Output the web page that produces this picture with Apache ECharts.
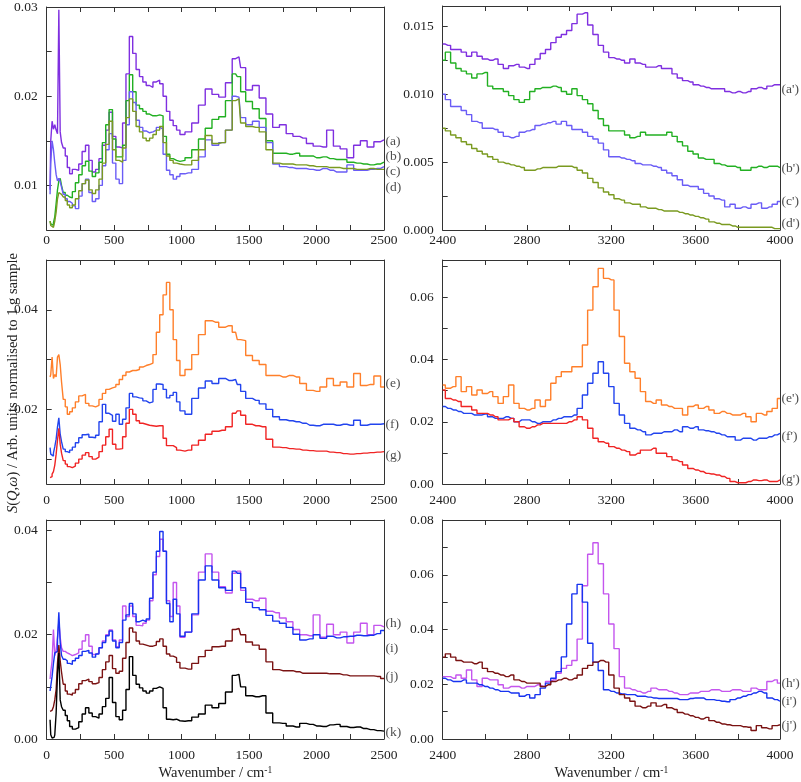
<!DOCTYPE html>
<html><head><meta charset="utf-8">
<script src="https://cdn.jsdelivr.net/npm/echarts@6/dist/echarts.min.js"></script>
<style>html,body{margin:0;padding:0;background:#fff}#c{width:801px;height:782px}</style>
</head><body><div id="c"></div>
<script>
// ---------- x values ----------
const lowX = [25,35,45,55,65,75,85,95,105,115,130,145,160,180,200,225,250,275,300,325,350,375,400,425,450,475,500,525,550,575,600,625,650,675,700,725,750,775,800,825,850,875,900,925,950,975,1000,1050,1100,1150,1200,1250,1300,1350,1400,1425,1450,1500,1550,1600,1650,1700,1750,1800,1850,1900,1950,2000,2050,2100,2150,2200,2250,2300,2350,2400,2450,2500];
const highX = [2400,2425,2450,2475,2500,2525,2550,2575,2600,2625,2650,2675,2700,2725,2750,2775,2800,2825,2850,2875,2900,2925,2950,2975,3000,3025,3050,3075,3100,3125,3150,3175,3200,3225,3250,3275,3300,3325,3350,3375,3400,3425,3450,3475,3500,3525,3550,3575,3600,3625,3650,3675,3700,3725,3750,3775,3800,3825,3850,3875,3900,3925,3950,3975,4000];

// ---------- low-frequency series ----------
const sA = [0.0095,0.0150,0.0172,0.0163,0.0168,0.0162,0.0158,0.0297,0.0160,0.0148,0.0142,0.0133,0.0120,0.0113,0.0118,0.0117,0.0124,0.0138,0.0145,0.0128,0.0115,0.0118,0.0130,0.0145,0.0162,0.0182,0.0155,0.0143,0.0142,0.0170,0.0225,0.0267,0.0248,0.0230,0.0222,0.0216,0.0212,0.0210,0.0216,0.0218,0.0214,0.0200,0.0183,0.0173,0.0167,0.0162,0.0157,0.0160,0.0170,0.0190,0.0208,0.0202,0.0199,0.0215,0.0242,0.0244,0.0232,0.0207,0.0212,0.0198,0.0180,0.0165,0.0168,0.0158,0.0155,0.0153,0.0147,0.0144,0.0143,0.0162,0.0144,0.0141,0.0131,0.0145,0.0150,0.0143,0.0149,0.0151];
const sB = [0.0060,0.0057,0.0055,0.0058,0.0065,0.0080,0.0095,0.0105,0.0108,0.0100,0.0092,0.0089,0.0087,0.0086,0.0093,0.0103,0.0112,0.0122,0.0127,0.0116,0.0110,0.0114,0.0126,0.0148,0.0168,0.0185,0.0152,0.0132,0.0132,0.0145,0.0195,0.0224,0.0205,0.0190,0.0186,0.0183,0.0180,0.0178,0.0178,0.0179,0.0178,0.0155,0.0135,0.0130,0.0128,0.0127,0.0128,0.0131,0.0140,0.0152,0.0164,0.0174,0.0177,0.0195,0.0225,0.0222,0.0205,0.0194,0.0186,0.0175,0.0150,0.0136,0.0136,0.0135,0.0136,0.0133,0.0133,0.0131,0.0132,0.0130,0.0129,0.0129,0.0126,0.0125,0.0124,0.0123,0.0124,0.0126];
const sC = [0.0090,0.0125,0.0150,0.0140,0.0125,0.0112,0.0105,0.0108,0.0104,0.0098,0.0090,0.0085,0.0082,0.0080,0.0077,0.0074,0.0088,0.0102,0.0107,0.0092,0.0082,0.0085,0.0100,0.0122,0.0140,0.0158,0.0125,0.0107,0.0102,0.0128,0.0168,0.0205,0.0193,0.0173,0.0165,0.0161,0.0159,0.0160,0.0162,0.0165,0.0163,0.0135,0.0117,0.0112,0.0107,0.0110,0.0113,0.0114,0.0118,0.0132,0.0151,0.0145,0.0148,0.0162,0.0200,0.0199,0.0176,0.0168,0.0172,0.0165,0.0148,0.0124,0.0121,0.0120,0.0119,0.0119,0.0118,0.0117,0.0119,0.0117,0.0115,0.0115,0.0123,0.0117,0.0117,0.0118,0.0119,0.0121];
const sD = [0.0060,0.0055,0.0053,0.0055,0.0060,0.0070,0.0085,0.0092,0.0090,0.0088,0.0087,0.0083,0.0078,0.0075,0.0078,0.0085,0.0094,0.0102,0.0106,0.0095,0.0091,0.0095,0.0107,0.0125,0.0146,0.0172,0.0140,0.0128,0.0126,0.0142,0.0176,0.0197,0.0183,0.0166,0.0160,0.0153,0.0150,0.0153,0.0157,0.0162,0.0166,0.0148,0.0133,0.0128,0.0125,0.0124,0.0123,0.0123,0.0128,0.0140,0.0156,0.0147,0.0148,0.0162,0.0195,0.0197,0.0170,0.0166,0.0165,0.0160,0.0140,0.0125,0.0124,0.0124,0.0123,0.0123,0.0122,0.0121,0.0121,0.0120,0.0120,0.0119,0.0119,0.0118,0.0118,0.0119,0.0118,0.0118];
const sE = [0.0265,0.0270,0.0305,0.0262,0.0270,0.0265,0.0305,0.0310,0.0290,0.0255,0.0220,0.0205,0.0190,0.0195,0.0203,0.0215,0.0227,0.0230,0.0212,0.0207,0.0205,0.0208,0.0220,0.0232,0.0240,0.0243,0.0245,0.0250,0.0260,0.0268,0.0275,0.0278,0.0278,0.0280,0.0285,0.0288,0.0290,0.0293,0.0310,0.0355,0.0390,0.0430,0.0455,0.0400,0.0340,0.0298,0.0268,0.0280,0.0310,0.0350,0.0378,0.0375,0.0365,0.0368,0.0355,0.0340,0.0338,0.0308,0.0298,0.0290,0.0268,0.0268,0.0265,0.0268,0.0265,0.0252,0.0238,0.0236,0.0245,0.0262,0.0248,0.0255,0.0245,0.0272,0.0248,0.0250,0.0267,0.0245];
const sF = [0.0123,0.0110,0.0106,0.0112,0.0125,0.0140,0.0165,0.0183,0.0150,0.0135,0.0120,0.0115,0.0113,0.0118,0.0124,0.0133,0.0143,0.0149,0.0150,0.0144,0.0143,0.0148,0.0175,0.0210,0.0192,0.0188,0.0176,0.0190,0.0170,0.0180,0.0203,0.0232,0.0225,0.0223,0.0222,0.0217,0.0213,0.0215,0.0240,0.0251,0.0250,0.0240,0.0223,0.0228,0.0234,0.0215,0.0197,0.0190,0.0222,0.0243,0.0257,0.0252,0.0262,0.0258,0.0260,0.0250,0.0236,0.0222,0.0218,0.0211,0.0200,0.0185,0.0179,0.0177,0.0175,0.0172,0.0168,0.0167,0.0170,0.0170,0.0168,0.0170,0.0168,0.0178,0.0168,0.0170,0.0170,0.0171];
const sG = [0.0063,0.0065,0.0070,0.0075,0.0088,0.0110,0.0138,0.0162,0.0130,0.0112,0.0097,0.0090,0.0085,0.0083,0.0086,0.0092,0.0100,0.0108,0.0113,0.0105,0.0100,0.0104,0.0115,0.0128,0.0145,0.0160,0.0130,0.0120,0.0121,0.0145,0.0172,0.0200,0.0190,0.0177,0.0172,0.0170,0.0168,0.0167,0.0166,0.0167,0.0167,0.0142,0.0127,0.0127,0.0123,0.0118,0.0116,0.0118,0.0128,0.0138,0.0150,0.0156,0.0158,0.0165,0.0192,0.0197,0.0188,0.0170,0.0167,0.0165,0.0140,0.0124,0.0123,0.0121,0.0120,0.0118,0.0117,0.0116,0.0116,0.0114,0.0113,0.0111,0.0110,0.0111,0.0112,0.0113,0.0114,0.0115];
const sH = [0.0115,0.0128,0.0150,0.0210,0.0160,0.0170,0.0195,0.0225,0.0195,0.0175,0.0168,0.0165,0.0163,0.0160,0.0162,0.0165,0.0172,0.0188,0.0200,0.0178,0.0162,0.0165,0.0175,0.0188,0.0200,0.0209,0.0190,0.0177,0.0190,0.0255,0.0235,0.0255,0.0235,0.0218,0.0217,0.0222,0.0228,0.0265,0.0315,0.0350,0.0383,0.0360,0.0265,0.0235,0.0300,0.0255,0.0195,0.0205,0.0238,0.0320,0.0355,0.0320,0.0292,0.0280,0.0318,0.0322,0.0285,0.0268,0.0265,0.0270,0.0245,0.0242,0.0232,0.0225,0.0210,0.0200,0.0198,0.0238,0.0195,0.0220,0.0200,0.0205,0.0184,0.0205,0.0222,0.0200,0.0218,0.0215];
const sI = [0.0092,0.0092,0.0120,0.0145,0.0165,0.0168,0.0190,0.0243,0.0185,0.0160,0.0153,0.0150,0.0145,0.0143,0.0150,0.0155,0.0160,0.0168,0.0170,0.0165,0.0157,0.0163,0.0175,0.0185,0.0198,0.0207,0.0188,0.0175,0.0185,0.0228,0.0238,0.0260,0.0240,0.0225,0.0228,0.0225,0.0230,0.0270,0.0320,0.0360,0.0398,0.0360,0.0260,0.0225,0.0268,0.0240,0.0197,0.0205,0.0240,0.0305,0.0332,0.0305,0.0290,0.0285,0.0322,0.0318,0.0290,0.0262,0.0252,0.0248,0.0237,0.0226,0.0222,0.0214,0.0201,0.0190,0.0192,0.0200,0.0193,0.0197,0.0194,0.0196,0.0197,0.0199,0.0198,0.0199,0.0202,0.0208];
const sJ = [0.0053,0.0055,0.0058,0.0062,0.0075,0.0095,0.0145,0.0180,0.0150,0.0128,0.0105,0.0092,0.0086,0.0084,0.0088,0.0095,0.0106,0.0112,0.0115,0.0110,0.0106,0.0108,0.0118,0.0133,0.0148,0.0160,0.0135,0.0126,0.0130,0.0155,0.0185,0.0213,0.0205,0.0188,0.0182,0.0180,0.0178,0.0178,0.0180,0.0187,0.0192,0.0178,0.0163,0.0159,0.0156,0.0147,0.0136,0.0134,0.0145,0.0158,0.0170,0.0177,0.0178,0.0188,0.0210,0.0212,0.0200,0.0186,0.0180,0.0172,0.0148,0.0133,0.0131,0.0131,0.0129,0.0126,0.0126,0.0126,0.0126,0.0125,0.0125,0.0123,0.0121,0.0121,0.0121,0.0121,0.0120,0.0116];
const sK = [0.0037,0.0008,0.0002,0.0003,0.0008,0.0050,0.0125,0.0165,0.0075,0.0062,0.0055,0.0045,0.0035,0.0024,0.0019,0.0022,0.0033,0.0048,0.0060,0.0050,0.0043,0.0040,0.0048,0.0062,0.0078,0.0118,0.0070,0.0043,0.0037,0.0055,0.0095,0.0158,0.0122,0.0105,0.0098,0.0092,0.0088,0.0092,0.0097,0.0100,0.0097,0.0060,0.0038,0.0037,0.0038,0.0035,0.0034,0.0035,0.0042,0.0048,0.0065,0.0060,0.0068,0.0090,0.0122,0.0124,0.0100,0.0083,0.0081,0.0083,0.0050,0.0031,0.0030,0.0025,0.0023,0.0030,0.0028,0.0025,0.0024,0.0027,0.0028,0.0024,0.0022,0.0023,0.0020,0.0018,0.0016,0.0015];

// ---------- high-frequency series ----------
const pA = [0.0137,0.0136,0.0133,0.0133,0.0131,0.0128,0.0131,0.0128,0.0126,0.0125,0.0126,0.0122,0.0119,0.0121,0.0122,0.0120,0.0119,0.0122,0.0126,0.0130,0.0133,0.0138,0.0142,0.0144,0.0147,0.0152,0.0159,0.0160,0.0151,0.0144,0.0136,0.0131,0.0127,0.0126,0.0125,0.0123,0.0126,0.0123,0.0122,0.0120,0.0120,0.0121,0.0119,0.0119,0.0115,0.0112,0.0110,0.0109,0.0107,0.0106,0.0105,0.0104,0.0104,0.0104,0.0102,0.0101,0.0102,0.0101,0.0102,0.0104,0.0105,0.0104,0.0106,0.0107,0.0107];
const pB = [0.0125,0.0131,0.0123,0.0119,0.0117,0.0115,0.0112,0.0115,0.0116,0.0106,0.0104,0.0104,0.0102,0.0099,0.0096,0.0094,0.0096,0.0102,0.0104,0.0105,0.0105,0.0106,0.0105,0.0102,0.0100,0.0104,0.0099,0.0096,0.0093,0.0088,0.0082,0.0077,0.0073,0.0073,0.0073,0.0070,0.0068,0.0069,0.0072,0.0070,0.0070,0.0070,0.0070,0.0072,0.0069,0.0065,0.0062,0.0058,0.0056,0.0053,0.0052,0.0052,0.0049,0.0048,0.0047,0.0047,0.0046,0.0044,0.0044,0.0046,0.0047,0.0046,0.0047,0.0047,0.0046];
const pC = [0.0100,0.0096,0.0091,0.0091,0.0088,0.0085,0.0080,0.0079,0.0075,0.0075,0.0074,0.0072,0.0069,0.0068,0.0069,0.0072,0.0073,0.0074,0.0077,0.0078,0.0079,0.0080,0.0078,0.0080,0.0077,0.0074,0.0074,0.0072,0.0069,0.0067,0.0064,0.0059,0.0054,0.0054,0.0053,0.0052,0.0051,0.0049,0.0048,0.0048,0.0047,0.0046,0.0044,0.0042,0.0040,0.0037,0.0033,0.0032,0.0032,0.0030,0.0027,0.0025,0.0023,0.0022,0.0017,0.0019,0.0016,0.0017,0.0016,0.0019,0.0020,0.0016,0.0017,0.0019,0.0021];
const pD = [0.0075,0.0073,0.0070,0.0068,0.0065,0.0063,0.0060,0.0058,0.0056,0.0054,0.0052,0.0050,0.0049,0.0048,0.0047,0.0046,0.0044,0.0044,0.0045,0.0046,0.0046,0.0046,0.0047,0.0047,0.0047,0.0046,0.0044,0.0042,0.0038,0.0035,0.0031,0.0028,0.0026,0.0023,0.0022,0.0020,0.0019,0.0019,0.0017,0.0016,0.0016,0.0015,0.0014,0.0014,0.0014,0.0013,0.0012,0.0011,0.0010,0.0009,0.0008,0.0006,0.0005,0.0004,0.0004,0.0003,0.0002,0.0002,0.0002,0.0002,0.0002,0.0002,0.0002,0.0001,0.0001];
const pE = [0.0318,0.0308,0.0313,0.0345,0.0297,0.0313,0.0286,0.0302,0.0291,0.0297,0.0281,0.0259,0.0281,0.0318,0.0259,0.0243,0.0238,0.0243,0.0270,0.0249,0.0270,0.0324,0.0345,0.0361,0.0361,0.0377,0.0377,0.0447,0.0559,0.0634,0.0693,0.0661,0.0656,0.0559,0.0474,0.0388,0.0361,0.0340,0.0297,0.0265,0.0259,0.0270,0.0254,0.0249,0.0243,0.0243,0.0222,0.0249,0.0254,0.0243,0.0249,0.0238,0.0227,0.0233,0.0227,0.0222,0.0222,0.0227,0.0216,0.0200,0.0227,0.0222,0.0233,0.0243,0.0275];
const pF = [0.0249,0.0243,0.0238,0.0233,0.0227,0.0227,0.0222,0.0222,0.0225,0.0216,0.0211,0.0211,0.0216,0.0211,0.0200,0.0206,0.0206,0.0200,0.0195,0.0200,0.0200,0.0206,0.0211,0.0216,0.0216,0.0222,0.0243,0.0286,0.0324,0.0356,0.0393,0.0356,0.0313,0.0259,0.0222,0.0195,0.0179,0.0174,0.0168,0.0158,0.0163,0.0163,0.0168,0.0168,0.0174,0.0168,0.0184,0.0179,0.0184,0.0174,0.0171,0.0168,0.0163,0.0158,0.0152,0.0152,0.0141,0.0147,0.0147,0.0141,0.0147,0.0147,0.0152,0.0158,0.0163];
const pG = [0.0302,0.0275,0.0270,0.0265,0.0249,0.0249,0.0238,0.0227,0.0227,0.0222,0.0216,0.0206,0.0206,0.0211,0.0200,0.0184,0.0179,0.0184,0.0190,0.0195,0.0195,0.0195,0.0195,0.0195,0.0200,0.0206,0.0216,0.0206,0.0179,0.0147,0.0136,0.0131,0.0120,0.0115,0.0109,0.0104,0.0093,0.0099,0.0109,0.0109,0.0115,0.0099,0.0099,0.0088,0.0077,0.0072,0.0061,0.0050,0.0045,0.0040,0.0034,0.0032,0.0029,0.0024,0.0018,0.0008,0.0004,0.0004,0.0008,0.0013,0.0011,0.0013,0.0008,0.0008,0.0013];
const pH = [0.0228,0.0228,0.0222,0.0234,0.0222,0.0252,0.0216,0.0192,0.0222,0.0216,0.0216,0.0198,0.0186,0.0192,0.0192,0.0186,0.0192,0.0192,0.0198,0.0192,0.0210,0.0216,0.0240,0.0258,0.0269,0.0287,0.0365,0.0560,0.0675,0.0717,0.0640,0.0530,0.0420,0.0330,0.0228,0.0186,0.0180,0.0174,0.0168,0.0174,0.0186,0.0180,0.0180,0.0174,0.0168,0.0162,0.0162,0.0168,0.0168,0.0174,0.0174,0.0180,0.0180,0.0174,0.0174,0.0180,0.0180,0.0174,0.0174,0.0186,0.0180,0.0180,0.0210,0.0216,0.0204];
const pI = [0.0222,0.0216,0.0210,0.0210,0.0216,0.0204,0.0204,0.0198,0.0192,0.0186,0.0180,0.0174,0.0174,0.0168,0.0168,0.0156,0.0162,0.0150,0.0162,0.0186,0.0204,0.0222,0.0246,0.0300,0.0420,0.0530,0.0565,0.0500,0.0350,0.0281,0.0250,0.0180,0.0174,0.0168,0.0165,0.0162,0.0162,0.0156,0.0156,0.0153,0.0150,0.0148,0.0148,0.0148,0.0148,0.0144,0.0144,0.0148,0.0150,0.0150,0.0144,0.0144,0.0141,0.0138,0.0136,0.0144,0.0150,0.0156,0.0162,0.0168,0.0174,0.0168,0.0150,0.0144,0.0138];
const pJ = [0.0299,0.0311,0.0299,0.0287,0.0281,0.0281,0.0275,0.0281,0.0258,0.0246,0.0240,0.0234,0.0228,0.0234,0.0216,0.0210,0.0204,0.0204,0.0204,0.0192,0.0198,0.0210,0.0216,0.0222,0.0216,0.0222,0.0234,0.0258,0.0269,0.0281,0.0287,0.0281,0.0234,0.0186,0.0162,0.0150,0.0138,0.0120,0.0114,0.0120,0.0132,0.0120,0.0126,0.0114,0.0108,0.0097,0.0091,0.0085,0.0079,0.0073,0.0079,0.0067,0.0061,0.0055,0.0052,0.0049,0.0049,0.0045,0.0043,0.0031,0.0049,0.0041,0.0037,0.0049,0.0052];

// ---------- ticks & labels ----------
const xTicksLow = [0,250,500,750,1000,1250,1500,1750,2000,2250,2500];
const xLabelsLow = [0,500,1000,1500,2000,2500];
const xTicksHigh = [2400,2600,2800,3000,3200,3400,3600,3800,4000];
const xLabelsHigh = [2400,2800,3200,3600,4000];
const yTicks1L = [0.005,0.01,0.015,0.02,0.025,0.03];  const yLabels1L = [0.01,0.02,0.03];
const yTicks1R = [0,0.0025,0.005,0.0075,0.01,0.0125,0.015]; const yLabels1R = [0,0.005,0.01,0.015];
const yTicks2L = [0.01,0.02,0.03,0.04]; const yLabels2L = [0.02,0.04];
const yTicks2R = [0,0.01,0.02,0.03,0.04,0.05,0.06,0.07]; const yLabels2R = [0,0.02,0.04,0.06];
const yTicks3L = [0,0.01,0.02,0.03,0.04]; const yLabels3L = [0,0.02,0.04];
const yTicks3R = [0,0.01,0.02,0.03,0.04,0.05,0.06,0.07,0.08]; const yLabels3R = [0,0.02,0.04,0.06,0.08];

// curve tags: [text, y-value at which the tag sits]
const tags1L = [['(a)',0.01492],['(b)',0.01326],['(c)',0.01152],['(d)',0.00981]];
const tags1R = [["(a')",0.01037],["(b')",0.00457],["(c')",0.0021],["(d')",0.0005]];
const tags2L = [['(e)',0.0252],['(f)',0.0170],['(g)',0.0108]];
const tags2R = [["(e')",0.0274],["(f')",0.0154],["(g')",0.0016]];
const tags3L = [['(h)',0.0222],['(i)',0.0174],['(j)',0.0119],['(k)',0.00125]];
const tags3R = [["(h')",0.0203],["(i')",0.0137],["(j')",0.0048]];

const col = {a:'#7f2fe0', b:'#22b022', c:'#6a5cf6', d:'#7a9a20', e:'#ff7f2a', f:'#2244ee', g:'#f02424', h:'#c455ee', i:'#1733f0', j:'#7a1212', k:'#000000'};

const FONT = '"Liberation Serif","DejaVu Serif",serif';
const AX = '#333';
const L = 46.7, R = 442.7, W = 337.3;

const panels = [
  {grid:{left:L, top:6, width:W, height:224}, xs:lowX, xr:[0,2500], xt:xTicksLow, xl:xLabelsLow, yr:[0.005,0.03], yt:yTicks1L, yl:yLabels1L, dec:2, xm:3.5,
   ser:[[sA,col.a],[sB,col.b],[sC,col.c],[sD,col.d]], tags:tags1L},
  {grid:{left:R, top:6, width:W, height:224}, xs:highX, xr:[2400,4000], xt:xTicksHigh, xl:xLabelsHigh, yr:[0,0.0165], yt:yTicks1R, yl:yLabels1R, dec:3, xm:3.5,
   ser:[[pA,col.a],[pB,col.b],[pC,col.c],[pD,col.d]], tags:tags1R},
  {grid:{left:L, top:260, width:W, height:224}, xs:lowX, xr:[0,2500], xt:xTicksLow, xl:xLabelsLow, yr:[0.005,0.05], yt:yTicks2L, yl:yLabels2L, dec:2, xm:9,
   ser:[[sE,col.e],[sF,col.f],[sG,col.g]], tags:tags2L},
  {grid:{left:R, top:260, width:W, height:224}, xs:highX, xr:[2400,4000], xt:xTicksHigh, xl:xLabelsHigh, yr:[0,0.072], yt:yTicks2R, yl:yLabels2R, dec:2, xm:9,
   ser:[[pE,col.e],[pF,col.f],[pG,col.g]], tags:tags2R},
  {grid:{left:L, top:520, width:W, height:225}, xs:lowX, xr:[0,2500], xt:xTicksLow, xl:xLabelsLow, yr:[0,0.042], yt:yTicks3L, yl:yLabels3L, dec:2, xm:9, name:true,
   ser:[[sH,col.h],[sI,col.i],[sJ,col.j],[sK,col.k]], tags:tags3L},
  {grid:{left:R, top:520, width:W, height:225}, xs:highX, xr:[2400,4000], xt:xTicksHigh, xl:xLabelsHigh, yr:[0,0.08], yt:yTicks3R, yl:yLabels3R, dec:2, xm:9, name:true,
   ser:[[pH,col.h],[pI,col.i],[pJ,col.j]], tags:tags3R}
];

const grid=[], xAxis=[], yAxis=[], series=[];
const lab = {fontFamily:FONT, fontSize:13.5, color:'#222'};
panels.forEach((p, gi) => {
  grid.push(p.grid);
  const base = {type:'value', gridIndex:gi, splitLine:{show:false}, axisLine:{show:true, onZero:false, lineStyle:{color:AX, width:1}}};
  xAxis.push(Object.assign({}, base, {min:p.xr[0], max:p.xr[1], position:'bottom',
    axisTick:{show:true, inside:true, length:5, customValues:p.xt, lineStyle:{color:AX}},
    axisLabel:Object.assign({show:true, customValues:p.xl, margin:p.xm, formatter:v=>String(v)}, lab),
    name: p.name ? '{t|Wavenumber / cm}{s|-1}' : '', nameLocation:'middle', nameGap:26,
    nameTextStyle:{rich:{t:{fontFamily:FONT, fontSize:14.5, color:'#222', lineHeight:16}, s:{fontFamily:FONT, fontSize:9.5, color:'#222', verticalAlign:'top', lineHeight:16, padding:[0,0,6,0]}}}
  }));
  xAxis.push(Object.assign({}, base, {min:p.xr[0], max:p.xr[1], position:'top',
    axisTick:{show:true, inside:true, length:5, customValues:p.xt, lineStyle:{color:AX}}, axisLabel:{show:false}}));
  yAxis.push(Object.assign({}, base, {min:p.yr[0], max:p.yr[1], position:'left',
    axisTick:{show:true, inside:true, length:5, customValues:p.yt, lineStyle:{color:AX}},
    axisLabel:Object.assign({show:true, customValues:p.yl, margin:9, formatter:v=>v.toFixed(p.dec)}, lab)}));
  yAxis.push(Object.assign({}, base, {min:p.yr[0], max:p.yr[1], position:'right', axisTick:{show:false}, axisLabel:{show:false}}));
  p.ser.forEach(([ys, c]) => {
    series.push({type:'line', xAxisIndex:2*gi, yAxisIndex:2*gi, step:'middle', symbol:'none', showSymbol:false,
      data:p.xs.map((x,k)=>[x, ys[k]]), lineStyle:{width:1.4, color:c}, itemStyle:{color:c}, clip:true, silent:true});
  });
  series.push({type:'scatter', xAxisIndex:2*gi, yAxisIndex:2*gi, symbolSize:1, itemStyle:{color:'rgba(0,0,0,0)'}, clip:false, silent:true,
    data:p.tags.map(t=>({value:[p.xr[1], t[1]], label:{formatter:t[0]}})),
    label:Object.assign({show:true, position:'right', distance:1}, lab)});
});

const chart = echarts.init(document.getElementById('c'), null, {renderer:'canvas'});
chart.setOption({
  animation:false, backgroundColor:'#fff',
  grid, xAxis, yAxis, series,
  graphic:[{type:'text', x:13, y:383, rotation:Math.PI/2,
    style:{text:'{i|S}({i|Q},{i|ω}) / Arb. units normalised to 1 g sample', align:'center', verticalAlign:'middle',
      fontFamily:FONT, fontSize:14.5, fill:'#222',
      rich:{i:{fontFamily:FONT, fontSize:14.5, fontStyle:'italic', fill:'#222'}}}}]
});
</script></body></html>
